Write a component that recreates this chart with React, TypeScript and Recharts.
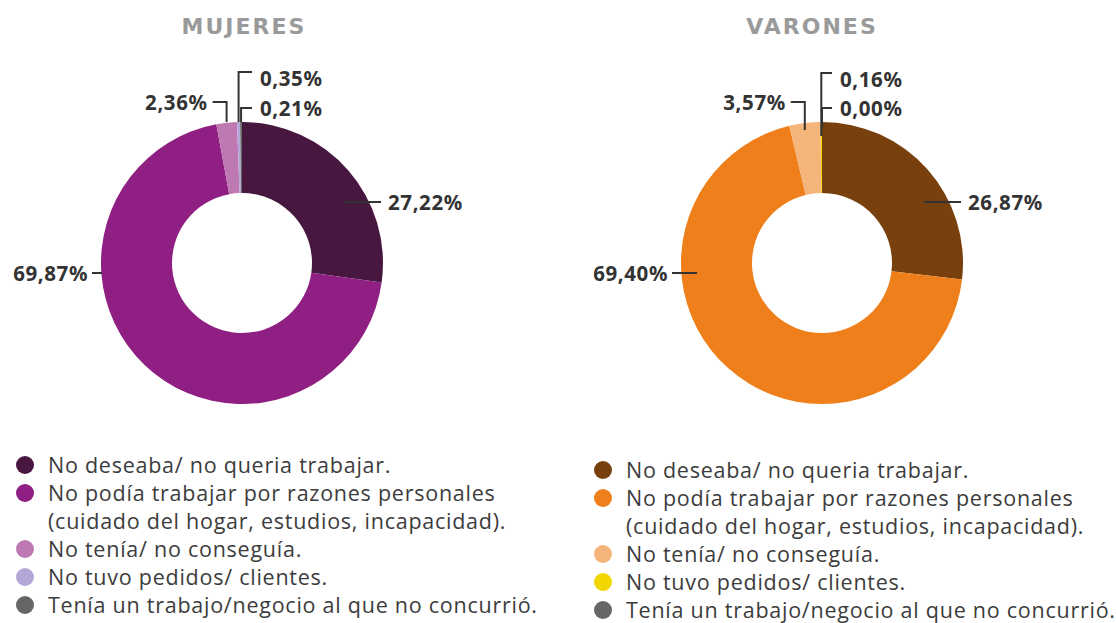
import { PieChart, Pie, Cell } from 'recharts';

const categories = [
  'No deseaba/ no queria trabajar.',
  'No podía trabajar por razones personales\n(cuidado del hogar, estudios, incapacidad).',
  'No tenía/ no conseguía.',
  'No tuvo pedidos/ clientes.',
  'Tenía un trabajo/negocio al que no concurrió.',
];

const mujeresValues = [27.22, 69.87, 2.36, 0.35, 0.21];
const varonesValues = [26.87, 69.4, 3.57, 0.16, 0.0];

const mujeresColors = ['#48173f', '#8f1f82', '#be79b3', '#b4a7d7', '#666666'];
const varonesColors = ['#77400d', '#ef7f1a', '#f5b47a', '#f2d600', '#666666'];

const mujeresData = categories.map((name, i) => ({ name, value: mujeresValues[i] }));
const varonesData = categories.map((name, i) => ({ name, value: varonesValues[i] }));

type LabelCfg = {
  kind: 'right' | 'left' | 'topLeft' | 'topRight';
  dy?: number;
  x1?: number;
  x2?: number;
  tx?: number;
  elbowY?: number;
  inset?: number;
  textDy?: number;
};

const mujeresLabels: LabelCfg[] = [
  { kind: 'right', dy: -61, x1: 102, x2: 139, tx: 146 },
  { kind: 'left', dy: 10, x1: -140, x2: -150, tx: -154 },
  { kind: 'topLeft', elbowY: -161, inset: 0 },
  { kind: 'topRight', elbowY: -191, inset: 0, textDy: 6 },
  { kind: 'topRight', elbowY: -155, inset: 0 },
];

const varonesLabels: LabelCfg[] = [
  { kind: 'right', dy: -61, x1: 102, x2: 139, tx: 146 },
  { kind: 'left', dy: 10, x1: -125, x2: -150, tx: -154 },
  { kind: 'topLeft', elbowY: -161, inset: 8 },
  { kind: 'topRight', elbowY: -190, inset: 14, textDy: 6 },
  { kind: 'topRight', elbowY: -155, inset: 6 },
];

const fmt = (v: number) => v.toFixed(2).replace('.', ',') + '%';

const LINE = '#333333';
const labelFont = {
  fontFamily: '"Noto Sans", sans-serif',
  fontWeight: 700,
  fontSize: 20.5,
  letterSpacing: 0.6,
  fill: '#333333',
};

function makeLabel(cfgs: LabelCfg[]) {
  return (props: any) => {
    const { cx, cy, midAngle, outerRadius, index, value } = props;
    const c = cfgs[index];
    const text = fmt(value);
    if (c.kind === 'right' || c.kind === 'left') {
      const y = cy + (c.dy ?? 0);
      return (
        <g>
          <line x1={cx + (c.x1 ?? 0)} y1={y} x2={cx + (c.x2 ?? 0)} y2={y} stroke={LINE} strokeWidth={2} />
          <text x={cx + (c.tx ?? 0)} y={y} dominantBaseline="central" textAnchor={c.kind === 'right' ? 'start' : 'end'} {...labelFont}>
            {text}
          </text>
        </g>
      );
    }
    const rad = (-midAngle * Math.PI) / 180;
    const px = cx + outerRadius * Math.cos(rad);
    const y0 = cy - outerRadius + (c.inset ?? 0);
    const ey = cy + (c.elbowY ?? 0);
    const ty = ey + (c.textDy ?? 0);
    if (c.kind === 'topLeft') {
      return (
        <g>
          <polyline points={`${px},${y0} ${px},${ey} ${px - 14},${ey}`} fill="none" stroke={LINE} strokeWidth={2} />
          <text x={px - 19} y={ty} dominantBaseline="central" textAnchor="end" {...labelFont}>
            {text}
          </text>
        </g>
      );
    }
    return (
      <g>
        <polyline points={`${px},${y0} ${px},${ey} ${cx + 10},${ey}`} fill="none" stroke={LINE} strokeWidth={2} />
        <text x={cx + 18} y={ty} dominantBaseline="central" textAnchor="start" {...labelFont}>
          {text}
        </text>
      </g>
    );
  };
}

function Legend({ colors, left, top }: { colors: string[]; left: number; top: number }) {
  return (
    <div
      style={{
        position: 'absolute',
        left,
        top,
        fontFamily: '"Open Sans", sans-serif',
        fontSize: 21.5,
        letterSpacing: 0.75,
        color: '#3c3c3c',
        lineHeight: '28px',
        whiteSpace: 'nowrap',
      }}
    >
      {categories.map((c, i) => (
        <div key={i} style={{ display: 'flex', alignItems: 'flex-start' }}>
          <span
            style={{
              width: 18,
              height: 18,
              borderRadius: 9,
              background: colors[i],
              marginTop: 5,
              marginRight: 14,
              flexShrink: 0,
            }}
          />
          <span style={{ whiteSpace: 'pre' }}>{c}</span>
        </div>
      ))}
    </div>
  );
}

const titleStyle = {
  position: 'absolute' as const,
  top: 14,
  width: 240,
  textAlign: 'center' as const,
  fontFamily: '"DejaVu Sans", sans-serif',
  fontWeight: 700,
  fontSize: 22,
  letterSpacing: 2,
  color: '#9a9a9a',
};

export default function App() {
  return (
    <div style={{ position: 'absolute', left: 0, top: 0, width: 1116, height: 623, background: '#fff', overflow: 'hidden' }}>
      <div style={{ ...titleStyle, left: 124 }}>MUJERES</div>
      <div style={{ ...titleStyle, left: 692 }}>VARONES</div>
      <div style={{ position: 'absolute', left: 0, top: 0 }}>
        <PieChart width={1116} height={440} margin={{ top: 0, right: 0, bottom: 0, left: 0 }}>
          <Pie
            data={mujeresData}
            dataKey="value"
            nameKey="name"
            cx={242}
            cy={263}
            innerRadius={70}
            outerRadius={141}
            startAngle={90}
            endAngle={-270}
            stroke="none"
            labelLine={false}
            label={makeLabel(mujeresLabels)}
            isAnimationActive={false}
          >
            {mujeresData.map((d, i) => (
              <Cell key={d.name} fill={mujeresColors[i]} />
            ))}
          </Pie>
          <Pie
            data={varonesData}
            dataKey="value"
            nameKey="name"
            cx={822}
            cy={263}
            innerRadius={70}
            outerRadius={141}
            startAngle={90}
            endAngle={-270}
            stroke="none"
            labelLine={false}
            label={makeLabel(varonesLabels)}
            isAnimationActive={false}
          >
            {varonesData.map((d, i) => (
              <Cell key={d.name} fill={varonesColors[i]} />
            ))}
          </Pie>
        </PieChart>
      </div>
      <Legend colors={mujeresColors} left={16} top={451} />
      <Legend colors={varonesColors} left={594} top={456} />
    </div>
  );
}
